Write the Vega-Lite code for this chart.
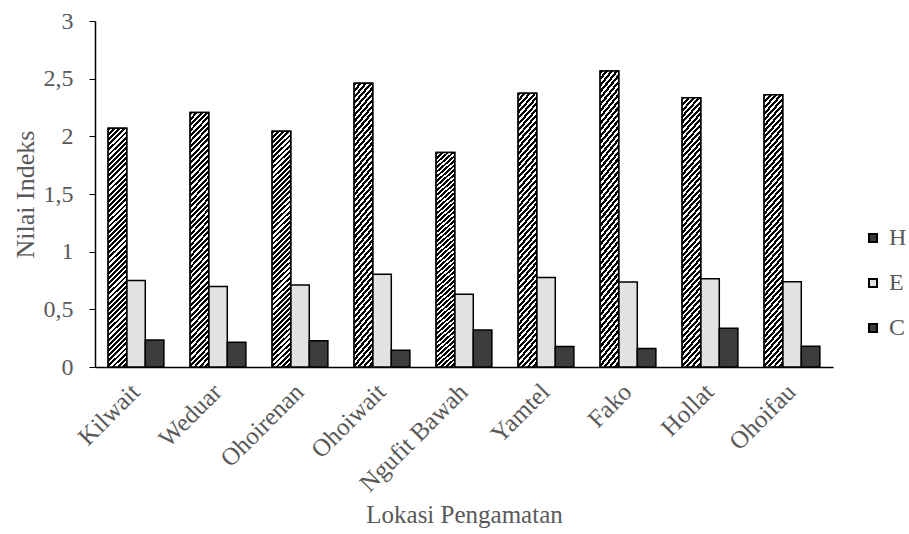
{
  "$schema": "https://vega.github.io/schema/vega-lite/v6.json",
  "width": 738,
  "height": 346,
  "autosize": {"type": "none"},
  "padding": {"left": 95, "top": 21, "right": 76, "bottom": 167},
  "background": "white",
  "config": {
    "view": {"stroke": null},
    "font": "Liberation Serif"
  },
  "data": {
    "values": [
      {"lokasi": "Kilwait", "indeks": "H", "nilai": 2.07},
      {"lokasi": "Kilwait", "indeks": "E", "nilai": 0.75},
      {"lokasi": "Kilwait", "indeks": "C", "nilai": 0.234},
      {"lokasi": "Weduar", "indeks": "H", "nilai": 2.206},
      {"lokasi": "Weduar", "indeks": "E", "nilai": 0.697},
      {"lokasi": "Weduar", "indeks": "C", "nilai": 0.214},
      {"lokasi": "Ohoirenan", "indeks": "H", "nilai": 2.044},
      {"lokasi": "Ohoirenan", "indeks": "E", "nilai": 0.711},
      {"lokasi": "Ohoirenan", "indeks": "C", "nilai": 0.228},
      {"lokasi": "Ohoiwait", "indeks": "H", "nilai": 2.46},
      {"lokasi": "Ohoiwait", "indeks": "E", "nilai": 0.804},
      {"lokasi": "Ohoiwait", "indeks": "C", "nilai": 0.145},
      {"lokasi": "Ngufit Bawah", "indeks": "H", "nilai": 1.859},
      {"lokasi": "Ngufit Bawah", "indeks": "E", "nilai": 0.63},
      {"lokasi": "Ngufit Bawah", "indeks": "C", "nilai": 0.32},
      {"lokasi": "Yamtel", "indeks": "H", "nilai": 2.374},
      {"lokasi": "Yamtel", "indeks": "E", "nilai": 0.777},
      {"lokasi": "Yamtel", "indeks": "C", "nilai": 0.177},
      {"lokasi": "Fako", "indeks": "H", "nilai": 2.567},
      {"lokasi": "Fako", "indeks": "E", "nilai": 0.737},
      {"lokasi": "Fako", "indeks": "C", "nilai": 0.16},
      {"lokasi": "Hollat", "indeks": "H", "nilai": 2.335},
      {"lokasi": "Hollat", "indeks": "E", "nilai": 0.766},
      {"lokasi": "Hollat", "indeks": "C", "nilai": 0.336},
      {"lokasi": "Ohoifau", "indeks": "H", "nilai": 2.36},
      {"lokasi": "Ohoifau", "indeks": "E", "nilai": 0.74},
      {"lokasi": "Ohoifau", "indeks": "C", "nilai": 0.18}
    ]
  },
  "encoding": {
    "x": {
      "field": "lokasi",
      "type": "nominal",
      "sort": null,
      "scale": {"paddingInner": 0.32, "paddingOuter": 0.16},
      "axis": {
        "title": "Lokasi Pengamatan",
        "titleFont": "Liberation Serif",
        "titleFontSize": 25,
        "titleFontWeight": "normal",
        "titleColor": "#595959",
        "titlePadding": 6,
        "labelAngle": -45,
        "labelFont": "Liberation Serif",
        "labelFontSize": 25,
        "labelColor": "#595959",
        "labelPadding": 12,
        "labelOffset": -9,
        "ticks": false,
        "domainColor": "#000000",
        "domainWidth": 1.5
      }
    },
    "xOffset": {"field": "indeks", "type": "nominal", "sort": ["H", "E", "C"], "scale": {"domain": ["H", "E", "C"]}},
    "y": {
      "field": "nilai",
      "type": "quantitative",
      "scale": {"domain": [0, 3], "nice": false},
      "axis": {
        "title": "Nilai Indeks",
        "titleFont": "Liberation Serif",
        "titleFontSize": 26,
        "titleFontWeight": "normal",
        "titleColor": "#595959",
        "titlePadding": 5,
        "values": [0, 0.5, 1, 1.5, 2, 2.5, 3],
        "labelExpr": "replace(toString(datum.value), '.', ',')",
        "labelFont": "Liberation Serif",
        "labelFontSize": 24,
        "labelColor": "#595959",
        "labelPadding": 16,
        "grid": false,
        "tickSize": 6,
        "tickColor": "#000000",
        "domainColor": "#000000",
        "domainWidth": 1.5
      }
    }
  },
  "layer": [
    {
      "mark": {"type": "bar", "stroke": "black", "strokeWidth": 1.5},
      "encoding": {
        "fill": {
          "field": "indeks",
          "type": "nominal",
          "sort": ["H", "E", "C"],
          "scale": {"domain": ["H", "E", "C"], "range": ["#3a3a3a", "#e2e2e2", "#3c3c3c"]},
          "legend": {
            "title": null,
            "orient": "none",
            "legendX": 766,
            "legendY": 205,
            "symbolType": "square",
            "symbolSize": 64,
            "symbolStrokeColor": "black",
            "symbolStrokeWidth": 2,
            "labelFont": "Liberation Serif",
            "labelFontSize": 24,
            "labelColor": "#595959",
            "labelOffset": 4,
            "rowPadding": 21
          }
        }
      }
    },
    {
      "transform": [{"filter": "datum.indeks === 'H'"}],
      "mark": {"type": "bar", "stroke": "black", "strokeWidth": 1.5},
      "encoding": {
        "fill": {
          "value": {
            "gradient": "linear",
            "x1": 0, "y1": 0, "x2": 0.0824, "y2": 1.0706,
            "stops": [
              {"offset": 0, "color": "#000"}, {"offset": 0.011, "color": "#000"}, {"offset": 0.011, "color": "#fff"}, {"offset": 0.02, "color": "#fff"},
              {"offset": 0.02, "color": "#000"}, {"offset": 0.031, "color": "#000"}, {"offset": 0.031, "color": "#fff"}, {"offset": 0.04, "color": "#fff"},
              {"offset": 0.04, "color": "#000"}, {"offset": 0.051, "color": "#000"}, {"offset": 0.051, "color": "#fff"}, {"offset": 0.06, "color": "#fff"},
              {"offset": 0.06, "color": "#000"}, {"offset": 0.071, "color": "#000"}, {"offset": 0.071, "color": "#fff"}, {"offset": 0.08, "color": "#fff"},
              {"offset": 0.08, "color": "#000"}, {"offset": 0.091, "color": "#000"}, {"offset": 0.091, "color": "#fff"}, {"offset": 0.1, "color": "#fff"},
              {"offset": 0.1, "color": "#000"}, {"offset": 0.111, "color": "#000"}, {"offset": 0.111, "color": "#fff"}, {"offset": 0.12, "color": "#fff"},
              {"offset": 0.12, "color": "#000"}, {"offset": 0.131, "color": "#000"}, {"offset": 0.131, "color": "#fff"}, {"offset": 0.14, "color": "#fff"},
              {"offset": 0.14, "color": "#000"}, {"offset": 0.151, "color": "#000"}, {"offset": 0.151, "color": "#fff"}, {"offset": 0.16, "color": "#fff"},
              {"offset": 0.16, "color": "#000"}, {"offset": 0.171, "color": "#000"}, {"offset": 0.171, "color": "#fff"}, {"offset": 0.18, "color": "#fff"},
              {"offset": 0.18, "color": "#000"}, {"offset": 0.191, "color": "#000"}, {"offset": 0.191, "color": "#fff"}, {"offset": 0.2, "color": "#fff"},
              {"offset": 0.2, "color": "#000"}, {"offset": 0.211, "color": "#000"}, {"offset": 0.211, "color": "#fff"}, {"offset": 0.22, "color": "#fff"},
              {"offset": 0.22, "color": "#000"}, {"offset": 0.231, "color": "#000"}, {"offset": 0.231, "color": "#fff"}, {"offset": 0.24, "color": "#fff"},
              {"offset": 0.24, "color": "#000"}, {"offset": 0.251, "color": "#000"}, {"offset": 0.251, "color": "#fff"}, {"offset": 0.26, "color": "#fff"},
              {"offset": 0.26, "color": "#000"}, {"offset": 0.271, "color": "#000"}, {"offset": 0.271, "color": "#fff"}, {"offset": 0.28, "color": "#fff"},
              {"offset": 0.28, "color": "#000"}, {"offset": 0.291, "color": "#000"}, {"offset": 0.291, "color": "#fff"}, {"offset": 0.3, "color": "#fff"},
              {"offset": 0.3, "color": "#000"}, {"offset": 0.311, "color": "#000"}, {"offset": 0.311, "color": "#fff"}, {"offset": 0.32, "color": "#fff"},
              {"offset": 0.32, "color": "#000"}, {"offset": 0.331, "color": "#000"}, {"offset": 0.331, "color": "#fff"}, {"offset": 0.34, "color": "#fff"},
              {"offset": 0.34, "color": "#000"}, {"offset": 0.351, "color": "#000"}, {"offset": 0.351, "color": "#fff"}, {"offset": 0.36, "color": "#fff"},
              {"offset": 0.36, "color": "#000"}, {"offset": 0.371, "color": "#000"}, {"offset": 0.371, "color": "#fff"}, {"offset": 0.38, "color": "#fff"},
              {"offset": 0.38, "color": "#000"}, {"offset": 0.391, "color": "#000"}, {"offset": 0.391, "color": "#fff"}, {"offset": 0.4, "color": "#fff"},
              {"offset": 0.4, "color": "#000"}, {"offset": 0.411, "color": "#000"}, {"offset": 0.411, "color": "#fff"}, {"offset": 0.42, "color": "#fff"},
              {"offset": 0.42, "color": "#000"}, {"offset": 0.431, "color": "#000"}, {"offset": 0.431, "color": "#fff"}, {"offset": 0.44, "color": "#fff"},
              {"offset": 0.44, "color": "#000"}, {"offset": 0.451, "color": "#000"}, {"offset": 0.451, "color": "#fff"}, {"offset": 0.46, "color": "#fff"},
              {"offset": 0.46, "color": "#000"}, {"offset": 0.471, "color": "#000"}, {"offset": 0.471, "color": "#fff"}, {"offset": 0.48, "color": "#fff"},
              {"offset": 0.48, "color": "#000"}, {"offset": 0.491, "color": "#000"}, {"offset": 0.491, "color": "#fff"}, {"offset": 0.5, "color": "#fff"},
              {"offset": 0.5, "color": "#000"}, {"offset": 0.511, "color": "#000"}, {"offset": 0.511, "color": "#fff"}, {"offset": 0.52, "color": "#fff"},
              {"offset": 0.52, "color": "#000"}, {"offset": 0.531, "color": "#000"}, {"offset": 0.531, "color": "#fff"}, {"offset": 0.54, "color": "#fff"},
              {"offset": 0.54, "color": "#000"}, {"offset": 0.551, "color": "#000"}, {"offset": 0.551, "color": "#fff"}, {"offset": 0.56, "color": "#fff"},
              {"offset": 0.56, "color": "#000"}, {"offset": 0.571, "color": "#000"}, {"offset": 0.571, "color": "#fff"}, {"offset": 0.58, "color": "#fff"},
              {"offset": 0.58, "color": "#000"}, {"offset": 0.591, "color": "#000"}, {"offset": 0.591, "color": "#fff"}, {"offset": 0.6, "color": "#fff"},
              {"offset": 0.6, "color": "#000"}, {"offset": 0.611, "color": "#000"}, {"offset": 0.611, "color": "#fff"}, {"offset": 0.62, "color": "#fff"},
              {"offset": 0.62, "color": "#000"}, {"offset": 0.631, "color": "#000"}, {"offset": 0.631, "color": "#fff"}, {"offset": 0.64, "color": "#fff"},
              {"offset": 0.64, "color": "#000"}, {"offset": 0.651, "color": "#000"}, {"offset": 0.651, "color": "#fff"}, {"offset": 0.66, "color": "#fff"},
              {"offset": 0.66, "color": "#000"}, {"offset": 0.671, "color": "#000"}, {"offset": 0.671, "color": "#fff"}, {"offset": 0.68, "color": "#fff"},
              {"offset": 0.68, "color": "#000"}, {"offset": 0.691, "color": "#000"}, {"offset": 0.691, "color": "#fff"}, {"offset": 0.7, "color": "#fff"},
              {"offset": 0.7, "color": "#000"}, {"offset": 0.711, "color": "#000"}, {"offset": 0.711, "color": "#fff"}, {"offset": 0.72, "color": "#fff"},
              {"offset": 0.72, "color": "#000"}, {"offset": 0.731, "color": "#000"}, {"offset": 0.731, "color": "#fff"}, {"offset": 0.74, "color": "#fff"},
              {"offset": 0.74, "color": "#000"}, {"offset": 0.751, "color": "#000"}, {"offset": 0.751, "color": "#fff"}, {"offset": 0.76, "color": "#fff"},
              {"offset": 0.76, "color": "#000"}, {"offset": 0.771, "color": "#000"}, {"offset": 0.771, "color": "#fff"}, {"offset": 0.78, "color": "#fff"},
              {"offset": 0.78, "color": "#000"}, {"offset": 0.791, "color": "#000"}, {"offset": 0.791, "color": "#fff"}, {"offset": 0.8, "color": "#fff"},
              {"offset": 0.8, "color": "#000"}, {"offset": 0.811, "color": "#000"}, {"offset": 0.811, "color": "#fff"}, {"offset": 0.82, "color": "#fff"},
              {"offset": 0.82, "color": "#000"}, {"offset": 0.831, "color": "#000"}, {"offset": 0.831, "color": "#fff"}, {"offset": 0.84, "color": "#fff"},
              {"offset": 0.84, "color": "#000"}, {"offset": 0.851, "color": "#000"}, {"offset": 0.851, "color": "#fff"}, {"offset": 0.86, "color": "#fff"},
              {"offset": 0.86, "color": "#000"}, {"offset": 0.871, "color": "#000"}, {"offset": 0.871, "color": "#fff"}, {"offset": 0.88, "color": "#fff"},
              {"offset": 0.88, "color": "#000"}, {"offset": 0.891, "color": "#000"}, {"offset": 0.891, "color": "#fff"}, {"offset": 0.9, "color": "#fff"},
              {"offset": 0.9, "color": "#000"}, {"offset": 0.911, "color": "#000"}, {"offset": 0.911, "color": "#fff"}, {"offset": 0.92, "color": "#fff"},
              {"offset": 0.92, "color": "#000"}, {"offset": 0.931, "color": "#000"}, {"offset": 0.931, "color": "#fff"}, {"offset": 0.94, "color": "#fff"},
              {"offset": 0.94, "color": "#000"}, {"offset": 0.951, "color": "#000"}, {"offset": 0.951, "color": "#fff"}, {"offset": 0.96, "color": "#fff"},
              {"offset": 0.96, "color": "#000"}, {"offset": 0.971, "color": "#000"}, {"offset": 0.971, "color": "#fff"}, {"offset": 0.98, "color": "#fff"},
              {"offset": 0.98, "color": "#000"}, {"offset": 0.991, "color": "#000"}, {"offset": 0.991, "color": "#fff"}, {"offset": 1, "color": "#fff"}
            ]
          }
        }
      }
    }
  ]
}
